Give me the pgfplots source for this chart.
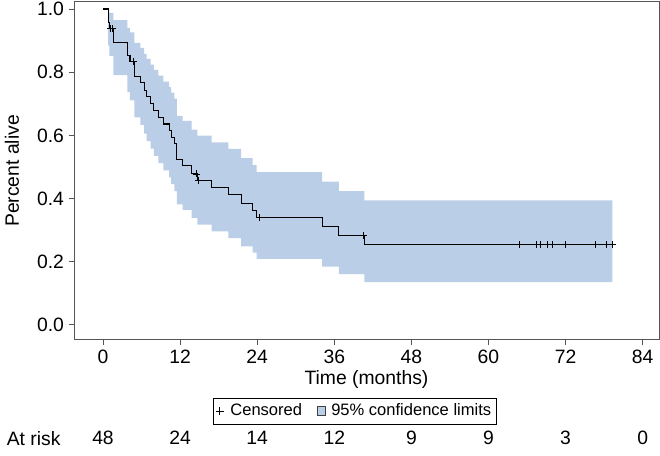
\documentclass[border=0pt]{standalone}
\usepackage{fontspec}
\setmainfont{Liberation Sans}
\usepackage{pgfplots}
\usepackage{pgfplotstable}
\pgfplotsset{compat=1.18}
\usepgfplotslibrary{fillbetween}

\definecolor{bandblue}{RGB}{187,206,231}
\definecolor{framegray}{RGB}{85,85,85}

% Kaplan-Meier estimate with 95% confidence limits (step values)
\pgfplotstableread{
t     S      U      L
0     1.000  1.000  1.000
0.8   0.958  0.996  0.884
1.0   0.9375 0.988  0.852
1.6   0.894  0.965  0.791
3.8   0.853  0.940  0.737
4.2   0.833  0.926  0.711
4.9   0.787  0.893  0.657
5.8   0.766  0.877  0.633
6.4   0.743  0.858  0.606
6.8   0.722  0.842  0.582
7.4   0.700  0.824  0.558
7.9   0.679  0.807  0.535
8.6   0.658  0.789  0.512
9.4   0.636  0.770  0.489
10.3  0.615  0.753  0.467
10.6  0.594  0.735  0.446
11.1  0.573  0.716  0.424
11.5  0.523  0.662  0.382
12.4  0.505  0.646  0.364
13.8  0.478  0.618  0.339
14.7  0.457  0.599  0.318
16.9  0.434  0.578  0.296
19.5  0.412  0.557  0.275
21.5  0.385  0.528  0.249
23.3  0.362  0.506  0.229
23.9  0.339  0.484  0.209
34.1  0.311  0.454  0.185
36.7  0.283  0.424  0.161
40.7  0.254  0.394  0.136
79.3  0.254  0.394  0.136
}\kmdata

\pgfplotstableread{
t     S
1.2   0.9375
1.5   0.9375
4.7   0.833
14.5  0.478
14.9  0.457
24.3  0.339
40.5  0.283
64.8  0.254
67.4  0.254
68.1  0.254
69.2  0.254
70.0  0.254
72.0  0.254
76.7  0.254
78.3  0.254
79.3  0.254
}\censdata

\begin{document}
\begin{tikzpicture}
\begin{axis}[
    scale only axis,
    width=438.75pt,
    height=253.5pt,
    xmin=-4.514, xmax=86.54,
    ymin=-0.0475, ymax=1.0222,
    clip=false,
    axis line style={framegray, line width=0.75pt},
    xtick={0,12,24,36,48,60,72,84},
    ytick={0,0.2,0.4,0.6,0.8,1},
    xtick pos=lower, ytick pos=left,
    tick align=outside,
    major tick length=4pt,
    tick style={framegray, line width=0.75pt},
    ticklabel style={font=\fontsize{14.5}{17}\selectfont},
    /pgf/number format/assume math mode=true,
    yticklabel style={/pgf/number format/.cd, fixed, fixed zerofill, precision=1},
    label style={font=\fontsize{14.5}{17}\selectfont},
    xlabel={Time (months)},
    ylabel={Percent alive},
    xlabel style={at={(rel axis cs:0.5,-0.118)}, anchor=center},
    ylabel style={at={(rel axis cs:-0.106,0.5)}, anchor=center},
    legend columns=2,
    legend style={at={(rel axis cs:0.480,-0.210)}, anchor=center,
        draw=black, line width=0.6pt, inner xsep=2pt, inner ysep=2.5pt,
        font=\fontsize{12.4}{14}\selectfont,
        /tikz/every even column/.append style={column sep=9pt}},
]
\addlegendimage{only marks, mark=+, mark size=3pt, black, mark options={line width=0.6pt}}
\addlegendentry{\hspace{3pt}Censored}
\addlegendimage{legend image code/.code={
    \draw[fill=bandblue, draw=black!75, line width=0.5pt] (0pt,-3.2pt) rectangle (6.4pt,3.2pt);}}
\addlegendentry{\hspace{2pt}95\% confidence limits}

\addplot[const plot, draw=none, name path=U, forget plot] table[x=t, y=U] {\kmdata};
\addplot[const plot, draw=none, name path=L, forget plot] table[x=t, y=L] {\kmdata};
\addplot[bandblue, draw=none, forget plot] fill between[of=U and L];

\addplot[const plot, black, line width=0.8pt, forget plot] table[x=t, y=S] {\kmdata};
\addplot[only marks, mark=+, mark size=2.6pt, black, mark options={line width=0.6pt}, forget plot]
    table[x=t, y=S] {\censdata};

\node[anchor=west, font=\fontsize{14.5}{17}\selectfont] at (axis cs:-15.7,-0.358) {At risk};
\node[font=\fontsize{14.5}{17}\selectfont] at (axis cs:0,-0.358) {48};
\node[font=\fontsize{14.5}{17}\selectfont] at (axis cs:12,-0.358) {24};
\node[font=\fontsize{14.5}{17}\selectfont] at (axis cs:24,-0.358) {14};
\node[font=\fontsize{14.5}{17}\selectfont] at (axis cs:36,-0.358) {12};
\node[font=\fontsize{14.5}{17}\selectfont] at (axis cs:48,-0.358) {9};
\node[font=\fontsize{14.5}{17}\selectfont] at (axis cs:60,-0.358) {9};
\node[font=\fontsize{14.5}{17}\selectfont] at (axis cs:72,-0.358) {3};
\node[font=\fontsize{14.5}{17}\selectfont] at (axis cs:84,-0.358) {0};
\end{axis}
\pgfresetboundingbox
\useasboundingbox (-55.5pt,-87pt) rectangle (439.5pt,255pt);
\end{tikzpicture}
\end{document}
